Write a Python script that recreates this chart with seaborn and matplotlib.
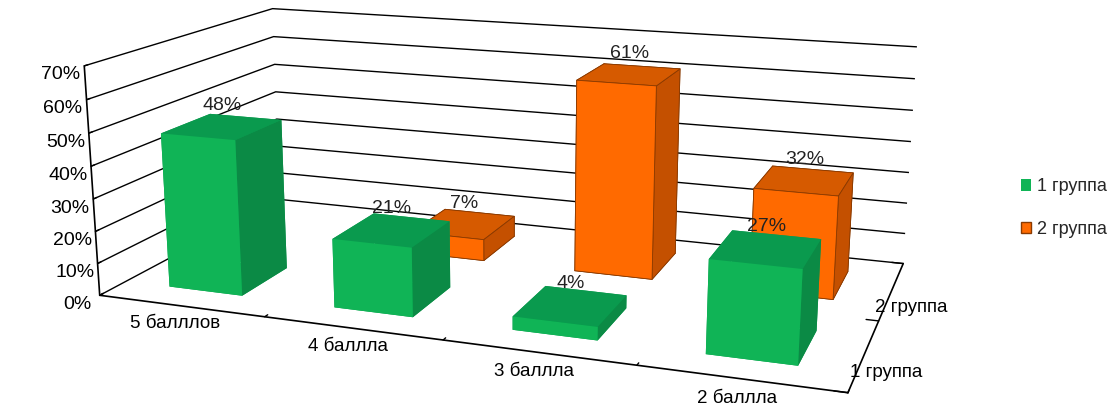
import numpy as np
import matplotlib
matplotlib.use("Agg")
import matplotlib.pyplot as plt
import seaborn as sns
from matplotlib.patches import Patch

categories = ["5 балллов", "4 баллла", "3 баллла", "2 баллла"]
series = ["1 группа", "2 группа"]
group1 = [48, 21, 4, 27]
group2 = [np.nan, 7, 61, 32]
z_ticks = [0, 10, 20, 30, 40, 50, 60, 70]

sns.set_theme(style="white")
plt.rcParams['font.family'] = ['Liberation Sans', 'DejaVu Sans']

# face colours: bottom, top, front, back, left, right
green_faces = ["#009a48", "#0a9a4e", "#10b456", "#0a9a4e", "#0a9a4e", "#0b8a45"]
orange_faces = ["#c85200", "#d65a00", "#ff6a00", "#d65a00", "#d65a00", "#c45000"]
legend_colors = ["#10b456", "#ff6a00"]

fig = plt.figure(figsize=(11.19, 4.16), dpi=100)
S = 1000.0
cx, cy = 500.0, 183.0
ax = fig.add_axes([(cx - S / 2) / 1119, (416 - cy - S / 2) / 416, S / 1119, S / 416],
                  projection='3d')
ax.set_proj_type('persp', focal_length=0.3)
ax.view_init(elev=14.5, azim=-70)
ax.set_box_aspect((6.05, 3.1, 1.9), zoom=0.83)

w, d = 0.45, 0.5
for si, (vals, faces, ec) in enumerate([(group1, green_faces, 'none'),
                                          (group2, orange_faces, '#8a3a00')]):
    for ci, v in enumerate(vals):
        if np.isnan(v):
            continue
        ax.bar3d(ci + 0.5 - w / 2, si + 0.5 - d / 2, 0, w, d, v,
                 color=faces, shade=False, edgecolor=ec, linewidth=0.6)
        ax.text(ci + 0.5, si + 0.5, v + 4, f"{int(v)}%", ha='center', va='bottom',
                fontsize=14, color='#222222', zorder=100)

ax.set_xlim(0, 4)
ax.set_ylim(0, 2)
ax.set_zlim(0, 70)
# ticks on the category boundaries, labels centred between them
ax.set_xticks(np.arange(len(categories) + 1))
ax.set_xticklabels([""] * (len(categories) + 1))
ax.set_xticks(np.arange(len(categories)) + 0.5, minor=True)
ax.set_xticklabels(categories, minor=True, fontsize=13.5)
ax.set_yticks(np.arange(len(series) + 1))
ax.set_yticklabels([""] * (len(series) + 1))
ax.set_yticks(np.arange(len(series)) + 0.5, minor=True)
ax.set_yticklabels(series, minor=True, fontsize=13.5)
ax.set_zticks(z_ticks)
ax.set_zticklabels([f"{t}%" for t in z_ticks], fontsize=14)
ax.zaxis.set_ticks_position('lower')

for axis in (ax.xaxis, ax.yaxis, ax.zaxis):
    axis.set_pane_color((1, 1, 1, 1))
    axis.pane.set_edgecolor((1, 1, 1, 0))
    axis.line.set_color('black')
    axis.line.set_linewidth(1.2)
    axis._axinfo['tick']['inward_factor'] = 0.0
    axis._axinfo['tick']['outward_factor'] = 0.2
    axis._axinfo['tick']['color'] = 'black'
    lw = axis._axinfo['tick'].get('linewidth')
    if isinstance(lw, dict):
        lw[True] = 1.0
        lw[False] = 0.0
ax.xaxis._axinfo['grid'].update(color=(1, 1, 1, 0), linewidth=0)
ax.yaxis._axinfo['grid'].update(color=(1, 1, 1, 0), linewidth=0)
ax.zaxis._axinfo['grid'].update(color='black', linewidth=1.0)
ax.tick_params(axis='both', which='both', pad=2, colors='black')

handles = [Patch(facecolor=legend_colors[0], edgecolor='none', label=series[0]),
           Patch(facecolor=legend_colors[1], edgecolor='#8a3a00', label=series[1])]
fig.legend(handles=handles, loc='center left', bbox_to_anchor=(0.912, 0.5),
           frameon=False, handlelength=0.6, handleheight=0.6, handletextpad=0.3,
           borderpad=0.0, borderaxespad=0.0, labelspacing=1.4, fontsize=13)

fig.savefig("out.png", dpi=100, facecolor='white')
